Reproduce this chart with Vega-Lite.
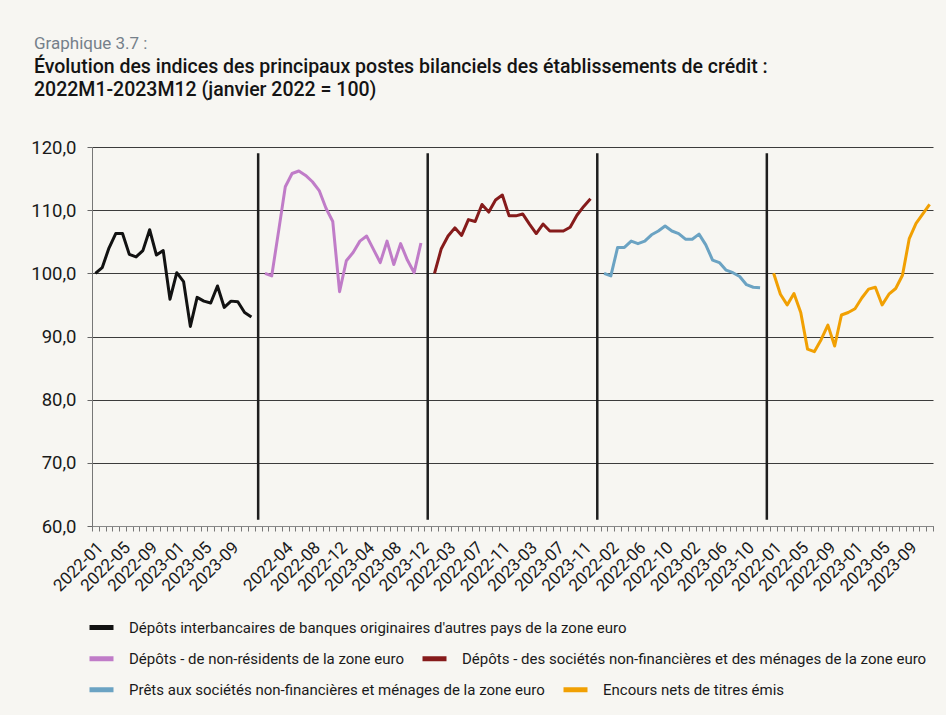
{
  "$schema": "https://vega.github.io/schema/vega-lite/v6.json",
  "width": 841,
  "height": 379,
  "autosize": {"type": "none"},
  "padding": {"left": 92, "top": 147, "right": 13, "bottom": 189},
  "background": "#f7f6f2",
  "title": {
    "text": "Graphique 3.7 :",
    "subtitle": ["Évolution des indices des principaux postes bilanciels des établissements de crédit :", "2022M1-2023M12 (janvier 2022 = 100)"],
    "anchor": "start",
    "frame": "group",
    "dx": -58,
    "offset": 38,
    "font": "Roboto",
    "fontSize": 17,
    "fontWeight": "normal",
    "color": "#75808a",
    "subtitleFont": "Roboto",
    "subtitleFontSize": 19.5,
    "subtitleFontWeight": 500,
    "subtitleColor": "#141414",
    "subtitlePadding": 5,
    "subtitleLineHeight": 23
  },
  "datasets": {
    "groupe1": [
      {"serie": "Dépôts interbancaires de banques originaires d'autres pays de la zone euro", "mois": "2022-01", "i": 0, "indice": 100.0},
      {"serie": "Dépôts interbancaires de banques originaires d'autres pays de la zone euro", "mois": "2022-02", "i": 1, "indice": 100.9},
      {"serie": "Dépôts interbancaires de banques originaires d'autres pays de la zone euro", "mois": "2022-03", "i": 2, "indice": 104.0},
      {"serie": "Dépôts interbancaires de banques originaires d'autres pays de la zone euro", "mois": "2022-04", "i": 3, "indice": 106.3},
      {"serie": "Dépôts interbancaires de banques originaires d'autres pays de la zone euro", "mois": "2022-05", "i": 4, "indice": 106.3},
      {"serie": "Dépôts interbancaires de banques originaires d'autres pays de la zone euro", "mois": "2022-06", "i": 5, "indice": 103.0},
      {"serie": "Dépôts interbancaires de banques originaires d'autres pays de la zone euro", "mois": "2022-07", "i": 6, "indice": 102.6},
      {"serie": "Dépôts interbancaires de banques originaires d'autres pays de la zone euro", "mois": "2022-08", "i": 7, "indice": 103.6},
      {"serie": "Dépôts interbancaires de banques originaires d'autres pays de la zone euro", "mois": "2022-09", "i": 8, "indice": 106.9},
      {"serie": "Dépôts interbancaires de banques originaires d'autres pays de la zone euro", "mois": "2022-10", "i": 9, "indice": 102.9},
      {"serie": "Dépôts interbancaires de banques originaires d'autres pays de la zone euro", "mois": "2022-11", "i": 10, "indice": 103.6},
      {"serie": "Dépôts interbancaires de banques originaires d'autres pays de la zone euro", "mois": "2022-12", "i": 11, "indice": 95.9},
      {"serie": "Dépôts interbancaires de banques originaires d'autres pays de la zone euro", "mois": "2023-01", "i": 12, "indice": 100.1},
      {"serie": "Dépôts interbancaires de banques originaires d'autres pays de la zone euro", "mois": "2023-02", "i": 13, "indice": 98.7},
      {"serie": "Dépôts interbancaires de banques originaires d'autres pays de la zone euro", "mois": "2023-03", "i": 14, "indice": 91.6},
      {"serie": "Dépôts interbancaires de banques originaires d'autres pays de la zone euro", "mois": "2023-04", "i": 15, "indice": 96.2},
      {"serie": "Dépôts interbancaires de banques originaires d'autres pays de la zone euro", "mois": "2023-05", "i": 16, "indice": 95.6},
      {"serie": "Dépôts interbancaires de banques originaires d'autres pays de la zone euro", "mois": "2023-06", "i": 17, "indice": 95.3},
      {"serie": "Dépôts interbancaires de banques originaires d'autres pays de la zone euro", "mois": "2023-07", "i": 18, "indice": 98.0},
      {"serie": "Dépôts interbancaires de banques originaires d'autres pays de la zone euro", "mois": "2023-08", "i": 19, "indice": 94.6},
      {"serie": "Dépôts interbancaires de banques originaires d'autres pays de la zone euro", "mois": "2023-09", "i": 20, "indice": 95.6},
      {"serie": "Dépôts interbancaires de banques originaires d'autres pays de la zone euro", "mois": "2023-10", "i": 21, "indice": 95.5},
      {"serie": "Dépôts interbancaires de banques originaires d'autres pays de la zone euro", "mois": "2023-11", "i": 22, "indice": 93.8},
      {"serie": "Dépôts interbancaires de banques originaires d'autres pays de la zone euro", "mois": "2023-12", "i": 23, "indice": 93.1}
    ],
    "groupe2": [
      {"serie": "Dépôts - de non-résidents de la zone euro", "mois": "2022-01", "i": 25, "indice": 100.0},
      {"serie": "Dépôts - de non-résidents de la zone euro", "mois": "2022-02", "i": 26, "indice": 99.6},
      {"serie": "Dépôts - de non-résidents de la zone euro", "mois": "2022-03", "i": 27, "indice": 106.6},
      {"serie": "Dépôts - de non-résidents de la zone euro", "mois": "2022-04", "i": 28, "indice": 113.7},
      {"serie": "Dépôts - de non-résidents de la zone euro", "mois": "2022-05", "i": 29, "indice": 115.8},
      {"serie": "Dépôts - de non-résidents de la zone euro", "mois": "2022-06", "i": 30, "indice": 116.2},
      {"serie": "Dépôts - de non-résidents de la zone euro", "mois": "2022-07", "i": 31, "indice": 115.5},
      {"serie": "Dépôts - de non-résidents de la zone euro", "mois": "2022-08", "i": 32, "indice": 114.5},
      {"serie": "Dépôts - de non-résidents de la zone euro", "mois": "2022-09", "i": 33, "indice": 113.1},
      {"serie": "Dépôts - de non-résidents de la zone euro", "mois": "2022-10", "i": 34, "indice": 110.3},
      {"serie": "Dépôts - de non-résidents de la zone euro", "mois": "2022-11", "i": 35, "indice": 108.2},
      {"serie": "Dépôts - de non-résidents de la zone euro", "mois": "2022-12", "i": 36, "indice": 97.1},
      {"serie": "Dépôts - de non-résidents de la zone euro", "mois": "2023-01", "i": 37, "indice": 102.0},
      {"serie": "Dépôts - de non-résidents de la zone euro", "mois": "2023-02", "i": 38, "indice": 103.3},
      {"serie": "Dépôts - de non-résidents de la zone euro", "mois": "2023-03", "i": 39, "indice": 105.1},
      {"serie": "Dépôts - de non-résidents de la zone euro", "mois": "2023-04", "i": 40, "indice": 105.9},
      {"serie": "Dépôts - de non-résidents de la zone euro", "mois": "2023-05", "i": 41, "indice": 103.8},
      {"serie": "Dépôts - de non-résidents de la zone euro", "mois": "2023-06", "i": 42, "indice": 101.7},
      {"serie": "Dépôts - de non-résidents de la zone euro", "mois": "2023-07", "i": 43, "indice": 105.1},
      {"serie": "Dépôts - de non-résidents de la zone euro", "mois": "2023-08", "i": 44, "indice": 101.4},
      {"serie": "Dépôts - de non-résidents de la zone euro", "mois": "2023-09", "i": 45, "indice": 104.7},
      {"serie": "Dépôts - de non-résidents de la zone euro", "mois": "2023-10", "i": 46, "indice": 102.1},
      {"serie": "Dépôts - de non-résidents de la zone euro", "mois": "2023-11", "i": 47, "indice": 100.1},
      {"serie": "Dépôts - de non-résidents de la zone euro", "mois": "2023-12", "i": 48, "indice": 104.8},
      {"serie": "Dépôts - des sociétés non-financières et des ménages de la zone euro", "mois": "2022-01", "i": 50, "indice": 100.0},
      {"serie": "Dépôts - des sociétés non-financières et des ménages de la zone euro", "mois": "2022-02", "i": 51, "indice": 103.9},
      {"serie": "Dépôts - des sociétés non-financières et des ménages de la zone euro", "mois": "2022-03", "i": 52, "indice": 105.9},
      {"serie": "Dépôts - des sociétés non-financières et des ménages de la zone euro", "mois": "2022-04", "i": 53, "indice": 107.2},
      {"serie": "Dépôts - des sociétés non-financières et des ménages de la zone euro", "mois": "2022-05", "i": 54, "indice": 106.0},
      {"serie": "Dépôts - des sociétés non-financières et des ménages de la zone euro", "mois": "2022-06", "i": 55, "indice": 108.5},
      {"serie": "Dépôts - des sociétés non-financières et des ménages de la zone euro", "mois": "2022-07", "i": 56, "indice": 108.2},
      {"serie": "Dépôts - des sociétés non-financières et des ménages de la zone euro", "mois": "2022-08", "i": 57, "indice": 110.9},
      {"serie": "Dépôts - des sociétés non-financières et des ménages de la zone euro", "mois": "2022-09", "i": 58, "indice": 109.7},
      {"serie": "Dépôts - des sociétés non-financières et des ménages de la zone euro", "mois": "2022-10", "i": 59, "indice": 111.6},
      {"serie": "Dépôts - des sociétés non-financières et des ménages de la zone euro", "mois": "2022-11", "i": 60, "indice": 112.4},
      {"serie": "Dépôts - des sociétés non-financières et des ménages de la zone euro", "mois": "2022-12", "i": 61, "indice": 109.1},
      {"serie": "Dépôts - des sociétés non-financières et des ménages de la zone euro", "mois": "2023-01", "i": 62, "indice": 109.1},
      {"serie": "Dépôts - des sociétés non-financières et des ménages de la zone euro", "mois": "2023-02", "i": 63, "indice": 109.4},
      {"serie": "Dépôts - des sociétés non-financières et des ménages de la zone euro", "mois": "2023-03", "i": 64, "indice": 107.8},
      {"serie": "Dépôts - des sociétés non-financières et des ménages de la zone euro", "mois": "2023-04", "i": 65, "indice": 106.3},
      {"serie": "Dépôts - des sociétés non-financières et des ménages de la zone euro", "mois": "2023-05", "i": 66, "indice": 107.8},
      {"serie": "Dépôts - des sociétés non-financières et des ménages de la zone euro", "mois": "2023-06", "i": 67, "indice": 106.7},
      {"serie": "Dépôts - des sociétés non-financières et des ménages de la zone euro", "mois": "2023-07", "i": 68, "indice": 106.7},
      {"serie": "Dépôts - des sociétés non-financières et des ménages de la zone euro", "mois": "2023-08", "i": 69, "indice": 106.7},
      {"serie": "Dépôts - des sociétés non-financières et des ménages de la zone euro", "mois": "2023-09", "i": 70, "indice": 107.3},
      {"serie": "Dépôts - des sociétés non-financières et des ménages de la zone euro", "mois": "2023-10", "i": 71, "indice": 109.2},
      {"serie": "Dépôts - des sociétés non-financières et des ménages de la zone euro", "mois": "2023-11", "i": 72, "indice": 110.6},
      {"serie": "Dépôts - des sociétés non-financières et des ménages de la zone euro", "mois": "2023-12", "i": 73, "indice": 111.8}
    ],
    "groupe3": [
      {"serie": "Prêts aux sociétés non-financières et ménages de la zone euro", "mois": "2022-01", "i": 75, "indice": 100.0},
      {"serie": "Prêts aux sociétés non-financières et ménages de la zone euro", "mois": "2022-02", "i": 76, "indice": 99.6},
      {"serie": "Prêts aux sociétés non-financières et ménages de la zone euro", "mois": "2022-03", "i": 77, "indice": 104.1},
      {"serie": "Prêts aux sociétés non-financières et ménages de la zone euro", "mois": "2022-04", "i": 78, "indice": 104.1},
      {"serie": "Prêts aux sociétés non-financières et ménages de la zone euro", "mois": "2022-05", "i": 79, "indice": 105.1},
      {"serie": "Prêts aux sociétés non-financières et ménages de la zone euro", "mois": "2022-06", "i": 80, "indice": 104.7},
      {"serie": "Prêts aux sociétés non-financières et ménages de la zone euro", "mois": "2022-07", "i": 81, "indice": 105.1},
      {"serie": "Prêts aux sociétés non-financières et ménages de la zone euro", "mois": "2022-08", "i": 82, "indice": 106.1},
      {"serie": "Prêts aux sociétés non-financières et ménages de la zone euro", "mois": "2022-09", "i": 83, "indice": 106.7},
      {"serie": "Prêts aux sociétés non-financières et ménages de la zone euro", "mois": "2022-10", "i": 84, "indice": 107.5},
      {"serie": "Prêts aux sociétés non-financières et ménages de la zone euro", "mois": "2022-11", "i": 85, "indice": 106.7},
      {"serie": "Prêts aux sociétés non-financières et ménages de la zone euro", "mois": "2022-12", "i": 86, "indice": 106.3},
      {"serie": "Prêts aux sociétés non-financières et ménages de la zone euro", "mois": "2023-01", "i": 87, "indice": 105.4},
      {"serie": "Prêts aux sociétés non-financières et ménages de la zone euro", "mois": "2023-02", "i": 88, "indice": 105.4},
      {"serie": "Prêts aux sociétés non-financières et ménages de la zone euro", "mois": "2023-03", "i": 89, "indice": 106.2},
      {"serie": "Prêts aux sociétés non-financières et ménages de la zone euro", "mois": "2023-04", "i": 90, "indice": 104.5},
      {"serie": "Prêts aux sociétés non-financières et ménages de la zone euro", "mois": "2023-05", "i": 91, "indice": 102.1},
      {"serie": "Prêts aux sociétés non-financières et ménages de la zone euro", "mois": "2023-06", "i": 92, "indice": 101.7},
      {"serie": "Prêts aux sociétés non-financières et ménages de la zone euro", "mois": "2023-07", "i": 93, "indice": 100.5},
      {"serie": "Prêts aux sociétés non-financières et ménages de la zone euro", "mois": "2023-08", "i": 94, "indice": 100.1},
      {"serie": "Prêts aux sociétés non-financières et ménages de la zone euro", "mois": "2023-09", "i": 95, "indice": 99.5},
      {"serie": "Prêts aux sociétés non-financières et ménages de la zone euro", "mois": "2023-10", "i": 96, "indice": 98.2},
      {"serie": "Prêts aux sociétés non-financières et ménages de la zone euro", "mois": "2023-11", "i": 97, "indice": 97.8},
      {"serie": "Prêts aux sociétés non-financières et ménages de la zone euro", "mois": "2023-12", "i": 98, "indice": 97.7},
      {"serie": "Encours nets de titres émis", "mois": "2022-01", "i": 100, "indice": 100.0},
      {"serie": "Encours nets de titres émis", "mois": "2022-02", "i": 101, "indice": 96.7},
      {"serie": "Encours nets de titres émis", "mois": "2022-03", "i": 102, "indice": 95.0},
      {"serie": "Encours nets de titres émis", "mois": "2022-04", "i": 103, "indice": 96.8},
      {"serie": "Encours nets de titres émis", "mois": "2022-05", "i": 104, "indice": 93.8},
      {"serie": "Encours nets de titres émis", "mois": "2022-06", "i": 105, "indice": 88.0},
      {"serie": "Encours nets de titres émis", "mois": "2022-07", "i": 106, "indice": 87.6},
      {"serie": "Encours nets de titres émis", "mois": "2022-08", "i": 107, "indice": 89.5},
      {"serie": "Encours nets de titres émis", "mois": "2022-09", "i": 108, "indice": 91.8},
      {"serie": "Encours nets de titres émis", "mois": "2022-10", "i": 109, "indice": 88.5},
      {"serie": "Encours nets de titres émis", "mois": "2022-11", "i": 110, "indice": 93.4},
      {"serie": "Encours nets de titres émis", "mois": "2022-12", "i": 111, "indice": 93.8},
      {"serie": "Encours nets de titres émis", "mois": "2023-01", "i": 112, "indice": 94.4},
      {"serie": "Encours nets de titres émis", "mois": "2023-02", "i": 113, "indice": 96.1},
      {"serie": "Encours nets de titres émis", "mois": "2023-03", "i": 114, "indice": 97.5},
      {"serie": "Encours nets de titres émis", "mois": "2023-04", "i": 115, "indice": 97.8},
      {"serie": "Encours nets de titres émis", "mois": "2023-05", "i": 116, "indice": 95.0},
      {"serie": "Encours nets de titres émis", "mois": "2023-06", "i": 117, "indice": 96.7},
      {"serie": "Encours nets de titres émis", "mois": "2023-07", "i": 118, "indice": 97.6},
      {"serie": "Encours nets de titres émis", "mois": "2023-08", "i": 119, "indice": 99.7},
      {"serie": "Encours nets de titres émis", "mois": "2023-09", "i": 120, "indice": 105.5},
      {"serie": "Encours nets de titres émis", "mois": "2023-10", "i": 121, "indice": 107.9},
      {"serie": "Encours nets de titres émis", "mois": "2023-11", "i": 122, "indice": 109.4},
      {"serie": "Encours nets de titres émis", "mois": "2023-12", "i": 123, "indice": 110.9}
    ],
    "separateurs": [
      {"i": 24, "bas": 61, "haut": 119},
      {"i": 49, "bas": 61, "haut": 119},
      {"i": 74, "bas": 61, "haut": 119},
      {"i": 99, "bas": 61, "haut": 119}
    ]
  },
  "layer": [
    {
      "data": {"name": "groupe1"},
      "mark": {"type": "line", "strokeWidth": 3, "strokeJoin": "round"},
      "encoding": {
        "x": {
          "field": "i",
          "type": "quantitative",
          "title": null,
          "scale": {"domain": [-0.5, 123.5], "nice": false, "zero": false},
          "axis": {
            "values": [-0.5,0.5,1.5,2.5,3.5,4.5,5.5,6.5,7.5,8.5,9.5,10.5,11.5,12.5,13.5,14.5,15.5,16.5,17.5,18.5,19.5,20.5,21.5,22.5,23.5,24.5,25.5,26.5,27.5,28.5,29.5,30.5,31.5,32.5,33.5,34.5,35.5,36.5,37.5,38.5,39.5,40.5,41.5,42.5,43.5,44.5,45.5,46.5,47.5,48.5,49.5,50.5,51.5,52.5,53.5,54.5,55.5,56.5,57.5,58.5,59.5,60.5,61.5,62.5,63.5,64.5,65.5,66.5,67.5,68.5,69.5,70.5,71.5,72.5,73.5,74.5,75.5,76.5,77.5,78.5,79.5,80.5,81.5,82.5,83.5,84.5,85.5,86.5,87.5,88.5,89.5,90.5,91.5,92.5,93.5,94.5,95.5,96.5,97.5,98.5,99.5,100.5,101.5,102.5,103.5,104.5,105.5,106.5,107.5,108.5,109.5,110.5,111.5,112.5,113.5,114.5,115.5,116.5,117.5,118.5,119.5,120.5,121.5,122.5,123.5],
            "tickCount": 200,
            "labelExpr": "(datum.value + 0.5) % 4 == 0 ? ['2022-01','2022-05','2022-09','2023-01','2023-05','2023-09','','2022-04','2022-08','2022-12','2023-04','2023-08','2023-12','2022-03','2022-07','2022-11','2023-03','2023-07','2023-11','2022-02','2022-06','2022-10','2023-02','2023-06','2023-10','2022-01','2022-05','2022-09','2023-01','2023-05','2023-09',''][(datum.value + 0.5) / 4] : ''",
            "labelAngle": -45,
            "labelAlign": "right",
            "labelBaseline": "top",
            "labelOffset": 2.5,
            "labelOverlap": false,
            "labelFlush": false,
            "labelBound": false,
            "labelPadding": 8,
            "labelFont": "Roboto",
            "labelFontSize": 17,
            "labelColor": "#1a1a1a",
            "tickSize": 5,
            "tickColor": "#777777",
            "domainColor": "#888888",
            "grid": false
          }
        },
        "y": {
          "field": "indice",
          "type": "quantitative",
          "title": null,
          "scale": {"domain": [60, 120], "nice": false, "zero": false},
          "axis": {
            "values": [60, 70, 80, 90, 100, 110, 120],
            "labelExpr": "replace(format(datum.value, '.1f'), '.', ',')",
            "labelFlush": false,
            "labelFont": "Roboto",
            "labelFontSize": 18.5,
            "labelColor": "#1a1a1a",
            "labelPadding": 11,
            "tickSize": 5,
            "tickColor": "#666666",
            "domainColor": "#777777",
            "grid": true,
            "gridColor": "#3c3c3c",
            "gridWidth": 1
          }
        },
        "color": {
          "field": "serie",
          "type": "nominal",
          "scale": {"domain": ["Dépôts interbancaires de banques originaires d'autres pays de la zone euro"], "range": ["#121212"]},
          "legend": {"title": null, "orient": "none", "direction": "horizontal", "legendX": -5, "legendY": 466}
        }
      }
    },
    {
      "data": {"name": "groupe2"},
      "mark": {"type": "line", "strokeWidth": 3, "strokeJoin": "round"},
      "encoding": {
        "x": {"field": "i", "type": "quantitative", "title": null},
        "y": {"field": "indice", "type": "quantitative", "title": null},
        "color": {
          "field": "serie",
          "type": "nominal",
          "scale": {"domain": ["Dépôts - de non-résidents de la zone euro", "Dépôts - des sociétés non-financières et des ménages de la zone euro"], "range": ["#c07cc8", "#861b1b"]},
          "legend": {"title": null, "orient": "none", "direction": "horizontal", "legendX": -5, "legendY": 497}
        }
      }
    },
    {
      "data": {"name": "groupe3"},
      "mark": {"type": "line", "strokeWidth": 3, "strokeJoin": "round"},
      "encoding": {
        "x": {"field": "i", "type": "quantitative", "title": null},
        "y": {"field": "indice", "type": "quantitative", "title": null},
        "color": {
          "field": "serie",
          "type": "nominal",
          "scale": {"domain": ["Prêts aux sociétés non-financières et ménages de la zone euro", "Encours nets de titres émis"], "range": ["#6ba3c3", "#f1a003"]},
          "legend": {"title": null, "orient": "none", "direction": "horizontal", "legendX": -5, "legendY": 528}
        }
      }
    },
    {
      "data": {"name": "separateurs"},
      "mark": {"type": "rule", "color": "#1e1e1e", "strokeWidth": 2.5},
      "encoding": {
        "x": {"field": "i", "type": "quantitative", "title": null},
        "y": {"field": "bas", "type": "quantitative", "title": null},
        "y2": {"field": "haut"}
      }
    }
  ],
  "resolve": {"scale": {"color": "independent"}},
  "config": {
    "view": {"stroke": null},
    "legend": {
      "symbolType": "stroke",
      "symbolStrokeWidth": 5,
      "symbolSize": 576,
      "labelFont": "Roboto",
      "labelFontSize": 15,
      "labelColor": "#1a1a1a",
      "labelOffset": 13,
      "columnPadding": 8,
      "labelLimit": 0
    }
  }
}
